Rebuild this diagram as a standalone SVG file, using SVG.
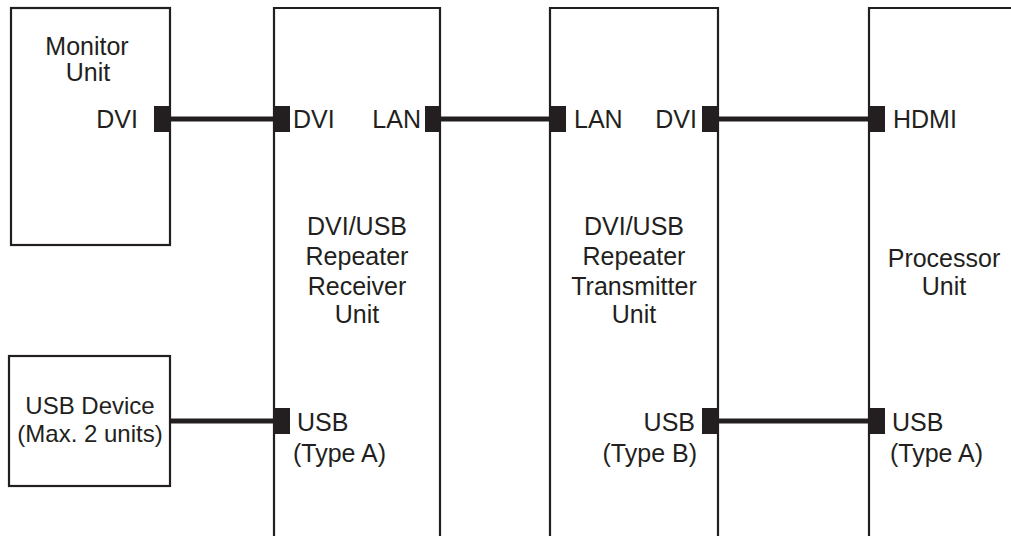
<svg xmlns="http://www.w3.org/2000/svg" width="1011" height="536" viewBox="0 0 1011 536">
<style>
.box{fill:#fff;stroke:#231f20;stroke-width:2.2}
.port{fill:#231f20}
.wire{stroke:#231f20;stroke-width:5;fill:none}
text{font-family:"Liberation Sans",Arial,sans-serif;font-size:25px;fill:#231f20}
.m{text-anchor:middle}
.e{text-anchor:end}
</style>
<rect width="1011" height="536" fill="#fff"/>
<g id="connectors">
<line class="wire" x1="170" y1="119" x2="274" y2="119"/>
<line class="wire" x1="440" y1="119" x2="550" y2="119"/>
<line class="wire" x1="718" y1="119" x2="869" y2="119"/>
<line class="wire" x1="170" y1="421" x2="274" y2="421"/>
<line class="wire" x1="718" y1="421" x2="869" y2="421"/>
</g>
<g id="monitor">
<rect class="box" x="11" y="8" width="159" height="237"/>
<text class="m" x="87" y="55">Monitor</text>
<text class="m" x="88" y="81">Unit</text>
<text class="e" x="138" y="128">DVI</text>
<rect class="port" x="154" y="106" width="16" height="26"/>
</g>
<g id="usb-device">
<rect class="box" x="9" y="356" width="161" height="130"/>
<text class="m" x="90" y="414" style="font-size:24px">USB Device</text>
<text class="m" x="90" y="442" style="font-size:24px">(Max. 2 units)</text>
</g>
<g id="receiver">
<path class="box" d="M274 536V8H440V536"/>
<rect class="port" x="274" y="106" width="16" height="26"/>
<rect class="port" x="425" y="106" width="16" height="26"/>
<rect class="port" x="274" y="408" width="16" height="26"/>
<text x="293" y="128">DVI</text>
<text class="e" x="421" y="128">LAN</text>
<text class="m" x="357" y="235">DVI/USB</text>
<text class="m" x="357" y="265">Repeater</text>
<text class="m" x="357" y="295">Receiver</text>
<text class="m" x="357" y="323">Unit</text>
<text x="297" y="431">USB</text>
<text x="293" y="462">(Type A)</text>
</g>
<g id="transmitter">
<path class="box" d="M550 536V8H718V536"/>
<rect class="port" x="550" y="106" width="16" height="26"/>
<rect class="port" x="702" y="106" width="16" height="26"/>
<rect class="port" x="702" y="408" width="16" height="26"/>
<text x="574" y="128">LAN</text>
<text class="e" x="697" y="128">DVI</text>
<text class="m" x="634" y="235">DVI/USB</text>
<text class="m" x="634" y="265">Repeater</text>
<text class="m" x="634" y="295">Transmitter</text>
<text class="m" x="634" y="323">Unit</text>
<text class="e" x="695" y="431">USB</text>
<text class="e" x="697" y="462">(Type B)</text>
</g>
<g id="processor">
<path class="box" d="M869 536V8H1013"/>
<rect class="port" x="869" y="106" width="16" height="26"/>
<rect class="port" x="869" y="408" width="16" height="26"/>
<text x="893" y="128">HDMI</text>
<text class="m" x="944" y="267">Processor</text>
<text class="m" x="944" y="295">Unit</text>
<text x="892" y="431">USB</text>
<text x="890" y="462">(Type A)</text>
</g>
</svg>
